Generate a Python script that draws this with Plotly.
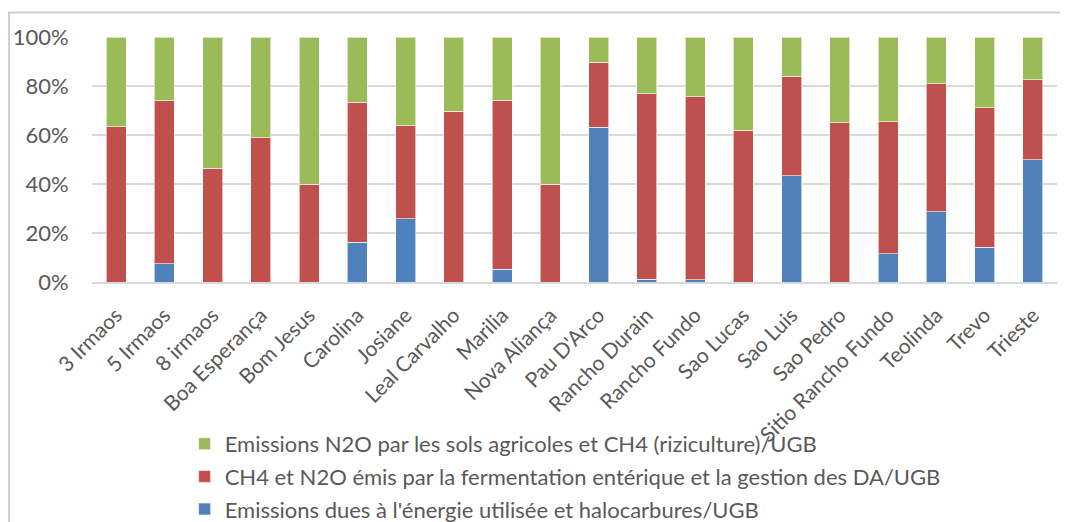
import plotly.graph_objects as go

categories = ["3 Irmaos", "5 Irmaos", "8 irmaos", "Boa Esperança", "Bom Jesus", "Carolina",
              "Josiane", "Leal Carvalho", "Marilia", "Nova Aliança", "Pau D'Arco", "Rancho Durain",
              "Rancho Fundo", "Sao Lucas", "Sao Luis", "Sao Pedro", "Sitio Rancho Fundo",
              "Teolinda", "Trevo", "Trieste"]

energie = [0, 7.5, 0, 0, 0, 16.3, 25.8, 0, 5.3, 0, 63.1, 1.2, 1.0, 0, 43.4, 0, 11.5, 28.6, 14.1, 49.8]
fermentation = [63.4, 66.4, 46.4, 58.8, 39.9, 57.0, 38.0, 69.7, 68.9, 39.9, 26.5, 75.7, 74.7, 62.0,
                40.5, 65.1, 54.0, 52.3, 57.1, 32.8]
sols = [36.6, 26.1, 53.6, 41.2, 60.1, 26.7, 36.2, 30.3, 25.8, 60.1, 10.4, 23.1, 24.3, 38.0, 16.1,
        34.9, 34.5, 19.1, 28.8, 17.4]

series_names = ["Emissions dues à l'énergie utilisée et halocarbures/UGB",
                "CH4 et N2O émis par la fermentation entérique et la gestion des DA/UGB",
                "Emissions N2O par les sols agricoles et CH4 (riziculture)/UGB"]
colors = ["#4F81BD", "#C0504D", "#9BBB59"]
legend_ranks = [3, 2, 1]
tick_vals = [0, 20, 40, 60, 80, 100]
tick_text = ["0%", "20%", "40%", "60%", "80%", "100%"]

fig = go.Figure()
for i, (name, vals) in enumerate(zip(series_names, [energie, fermentation, sols])):
    fig.add_trace(go.Bar(x=categories, y=vals, name=name, marker_color=colors[i],
                         marker_line=dict(color="rgba(255,255,255,0.6)", width=1),
                         legendgroup=str(i), legendrank=legend_ranks[i]))

font_family = "Lato, 'Open Sans', sans-serif"
fig.update_layout(
    width=1068, height=522,
    barmode="stack", bargap=0.585,
    margin=dict(l=84, r=19, t=29, b=248, autoexpand=False),
    paper_bgcolor="white", plot_bgcolor="white",
    font=dict(family=font_family, color="#595959", size=21),
    xaxis=dict(tickangle=-45, ticks="outside", ticklen=11, tickcolor="rgba(0,0,0,0)",
               showline=True, linecolor="#d9d9d9", linewidth=1.5, automargin=False,
               tickfont=dict(size=21, color="#595959")),
    yaxis=dict(range=[0, 100], tickvals=tick_vals, ticktext=tick_text,
               showgrid=True, gridcolor="#d9d9d9", gridwidth=1.5, zeroline=False,
               ticks="outside", ticklen=18, tickcolor="rgba(0,0,0,0)", automargin=False,
               tickfont=dict(size=22, color="#595959")),
    legend=dict(orientation="v", traceorder="grouped", tracegroupgap=1,
                x=0.096, xanchor="left", yref="container", y=0.205, yanchor="top",
                font=dict(size=22, color="#595959"), bgcolor="rgba(0,0,0,0)"),
    shapes=[dict(type="rect", xref="paper", yref="paper", x0=-0.086, x1=1.3, y0=-1.3, y1=1.1,
                 line=dict(color="#d0d0d0", width=2), layer="above")],
)

fig.write_html("out.html")
